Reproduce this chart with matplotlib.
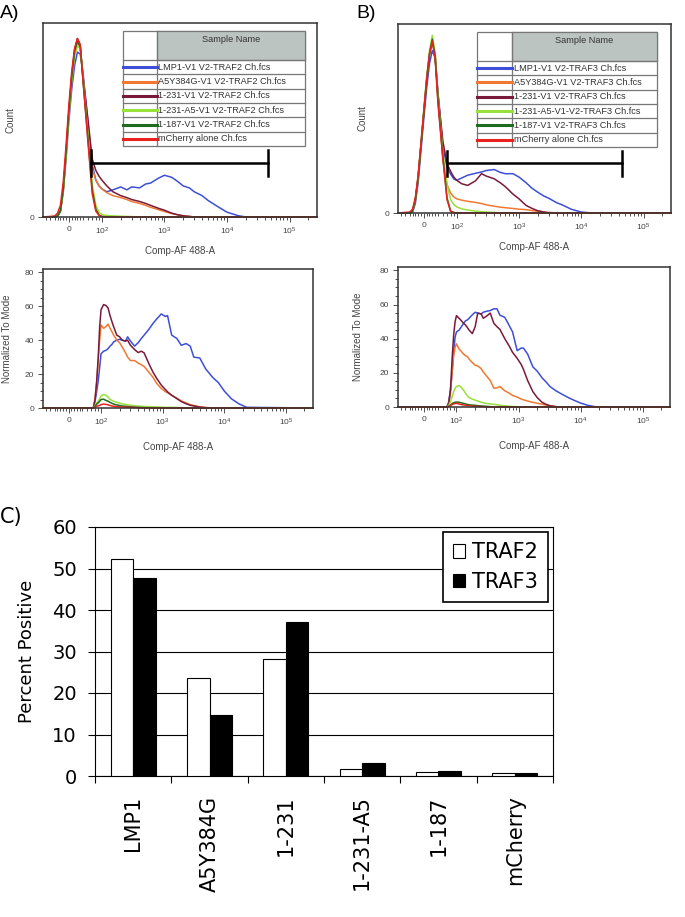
import matplotlib.pyplot as plt
from matplotlib.patches import Rectangle, Patch

plt.rcParams['font.family'] = ['Liberation Sans', 'DejaVu Sans']
plt.rcParams['mathtext.fontset'] = 'custom'
plt.rcParams['mathtext.rm'] = 'Liberation Sans'
plt.rcParams['mathtext.it'] = 'Liberation Sans'
plt.rcParams['mathtext.default'] = 'regular'

# ---- data ----
colors = ['#3d4fd6', '#f07832', '#7a1a3a', '#98e03a', '#1f6b1f', '#e8231e']

names_a = ['LMP1-V1 V2-TRAF2 Ch.fcs', 'A5Y384G-V1 V2-TRAF2 Ch.fcs', '1-231-V1 V2-TRAF2 Ch.fcs',
           '1-231-A5-V1 V2-TRAF2 Ch.fcs', '1-187-V1 V2-TRAF2 Ch.fcs', 'mCherry alone Ch.fcs']
names_b = ['LMP1-V1 V2-TRAF3 Ch.fcs', 'A5Y384G-V1 V2-TRAF3 Ch.fcs', '1-231-V1 V2-TRAF3 Ch.fcs',
           '1-231-A5-V1-V2-TRAF3 Ch.fcs', '1-187-V1 V2-TRAF3 Ch.fcs', 'mCherry alone Ch.fcs']

# fluorescence grid for the ungated (Count) histograms
top_x = [-77, -50, -40, -30, -20, -10, 0, 10, 20, 30, 40, 50, 60, 70, 80, 90, 100, 120,
         150, 200, 250, 300, 400, 500, 600, 800, 1000, 1300, 1600, 2000, 2500, 3000,
         4000, 5000, 7000, 10000, 15000, 20000, 30000, 275000]

top_a_lmp1 = [0, 0, 0.5, 3, 13, 30, 50, 66, 78, 85, 84, 74, 48, 27, 19, 16, 14.5, 13,
              14, 15.5, 14, 15.5, 15, 17, 17.5, 20, 21.5, 20.5, 18.5, 16, 15, 13,
              11, 8.5, 5.5, 2.5, 0.7, 0, 0, 0]
top_a_a5y = [0, 0, 0.5, 3, 14, 33, 54, 72, 85, 90, 87, 71, 45, 25, 19, 16, 14.5, 12.5,
             11, 10, 9, 8, 7, 6, 5, 3.8, 2.8, 1.8, 1.2, 0.6, 0.3] + [0] * 9
top_a_231 = [0, 0, 0.5, 3, 14, 33, 55, 73, 86, 92, 88, 72, 50, 30, 24, 21, 19, 16,
             13, 11, 10, 9, 8, 7, 6, 4.5, 3.5, 2, 1.2, 0.6, 0.3] + [0] * 9
top_a_231a5 = [0, 0, 0.5, 3, 13, 31, 52, 70, 83, 88, 87, 72, 42, 17, 6, 2.5, 1.2, 0.8,
               0.6, 0.4, 0.3, 0.2, 0.1] + [0] * 17
top_a_187 = [0, 0, 0.5, 3, 14, 33, 54, 72, 85, 91, 88, 70, 40, 14, 4, 1, 0.3] + [0] * 23
top_a_mch = [0, 0.5, 2, 6, 18, 37, 58, 75, 87, 92, 89, 70, 38, 12, 3, 0.8, 0.2] + [0] * 23

top_b_lmp1 = [0, 0, 0.5, 5, 16, 33, 50, 66, 79, 86, 82, 64, 35, 24, 20.5, 18, 17.3, 18.5,
              20, 21, 21.7, 22.5, 23, 21.5, 20.8, 20.8, 19, 16, 13.2, 11, 9, 7.8,
              5.5, 4.2, 1.9, 0.5, 0, 0, 0, 0]
top_b_a5y = [0, 0, 1, 7, 19, 36, 53, 70, 84, 90, 84, 62, 28, 15, 10.5, 8.5, 7.5, 6.8,
             6.2, 5.6, 5, 4.3, 3.6, 3.1, 2.8, 2.4, 2, 1.8, 1.3, 0.9, 0.6, 0.3] + [0] * 8
top_b_231 = [0, 0, 1, 7, 19, 36, 53, 70, 84, 91, 84, 63, 38, 26, 22, 19, 17.3, 15.5,
             14.6, 17, 20.8, 19.5, 18.1, 16, 14, 10, 7.5, 4, 2.5, 1.2, 0.5] + [0] * 9
top_b_231a5 = [0, 0, 1, 7, 19, 37, 55, 72, 86, 94, 85, 62, 32, 15, 7, 4.5, 3.2, 2.2,
               1.6, 1, 0.7, 0.5, 0.3, 0.1] + [0] * 16
top_b_187 = [0, 0, 1, 7, 19, 36, 53, 70, 84, 92, 83, 60, 30, 8, 1, 0.3] + [0] * 24
top_b_mch = [0, 0.5, 2, 8, 20, 37, 54, 71, 84, 91, 82, 58, 29, 7, 0.8, 0.2] + [0] * 24

# fluorescence grid for the gated (Normalized To Mode) histograms
bot_x = [-77, 60, 70, 75, 80, 85, 90, 95, 100, 110, 120, 130, 140, 150, 160, 180, 200,
         220, 250, 270, 300, 350, 400, 450, 500, 600, 700, 800, 950, 1100, 1200, 1400,
         1700, 2000, 2400, 2800, 3200, 4000, 5000, 6500, 8000, 10000, 13000, 17000,
         23000, 275000]

bot_a_lmp1 = [0, 0, 0, 0, 4, 10, 16, 24, 32, 33.5, 34, 35, 36.5, 37.5, 39, 40, 40.5, 40,
              39.5, 42, 39.5, 36.5, 38.5, 41, 43, 46.5, 50, 52.5, 55.5, 54, 54.5, 43, 41,
              37, 38, 36.5, 30, 29.5, 23, 18, 15, 10, 5.5, 2.6, 0.4, 0]
bot_a_a5y = [0, 0, 0, 0, 6, 15, 28, 40, 49, 47, 48, 49.5, 47, 45, 43, 40, 38.5, 36,
             32.5, 30, 28, 28, 26.5, 25.5, 24.5, 21, 18, 14.5, 11.5, 9.7, 9, 7.5, 5.8,
             4.2, 3, 2, 1.5, 0.7, 0.3] + [0] * 7
bot_a_231 = [0, 0, 0, 0, 5, 16, 30, 48, 58, 61, 60.5, 59, 54.5, 51, 48, 43, 42, 40,
             39.5, 40, 37, 34.5, 32.7, 33.5, 32.5, 26, 21, 17.5, 13.5, 11, 9.5, 7.5, 5.5,
             3.8, 2.5, 1.6, 1.2, 0.5, 0.2] + [0] * 7
bot_a_231a5 = [0, 0, 0, 0, 1.5, 3, 4, 5.5, 7, 8, 7.5, 6.5, 5, 4.5, 4, 3.3, 2.9, 2.5,
               2.1, 1.9, 1.6, 1.3, 1.1, 1, 0.9, 0.8, 0.7, 0.6, 0.5, 0.4, 0.4, 0.4, 0.3,
               0.2, 0.1] + [0] * 11
bot_a_187 = [0, 0, 0, 0, 1, 2.3, 3, 4, 5, 5.2, 4.5, 4, 3.3, 2.8, 2.3, 1.8, 1.5, 1.2,
             1, 0.9, 0.7, 0.5, 0.4, 0.3, 0.2, 0.1] + [0] * 20
bot_a_mch = [0, 0, 0, 0, 0.5, 1, 1.3, 1.6, 2, 2.3, 2.1, 1.9, 1.5, 1.2, 1, 0.8, 0.7, 0.6,
             0.5, 0.45, 0.4, 0.3, 0.2, 0.1] + [0] * 22

bot_b_lmp1 = [0, 0, 0, 3, 10, 20, 32, 41, 44, 45, 47, 49, 50.5, 51, 52, 54, 55.5, 55,
              54.5, 55.5, 56, 56.5, 57.5, 57.5, 53.8, 52.5, 48, 44, 33, 34.5, 34.5, 31,
              23.5, 21, 17, 14.5, 12, 9.5, 7.5, 5.3, 3.8, 2.3, 1, 0.2, 0, 0]
bot_b_a5y = [0, 0, 0, 2, 8, 20, 30, 35, 37, 34, 32.5, 31, 30, 29.5, 28, 26, 24.5, 24,
             22.5, 20.5, 18.5, 15.5, 11, 11.2, 12, 9.5, 8.2, 6.8, 5.8, 4.7, 4.2, 3.5,
             2.7, 2.2, 1.6, 1.1, 0.8, 0.2] + [0] * 8
bot_b_231 = [0, 0, 0, 2, 10, 28, 42, 50, 53.5, 52, 50.5, 49, 48, 46.5, 45, 43, 47, 55,
             54.5, 52, 53, 55, 49, 47, 45.5, 40, 36, 32, 28.5, 25, 22, 15.5, 9, 5.5, 2.7,
             1.5, 0.7, 0.2] + [0] * 8
bot_b_231a5 = [0, 0, 0, 1, 3, 6, 9, 11, 12, 12.6, 11.5, 9.9, 8, 6.5, 5.5, 4.6, 4, 3.5,
               2.8, 2.5, 2.1, 1.8, 1.6, 1.3, 1, 0.7, 0.5, 0.3, 0.2, 0.1] + [0] * 16
bot_b_187 = [0, 0, 0, 0.5, 1, 2, 2.5, 2.8, 2.9, 2.8, 2.4, 2.1, 1.8, 1.5, 1.3, 1.1, 1,
             0.8, 0.6, 0.5, 0.4, 0.2, 0.1] + [0] * 23
bot_b_mch = [0, 0, 0, 0.3, 0.8, 1.4, 1.8, 2, 2.1, 1.8, 1.4, 1.2, 1, 0.8, 0.7, 0.5, 0.4,
             0.35, 0.3, 0.2, 0.1] + [0] * 25

# gate: (start, end, height) in data units
gate_a = (68, 45800, 27.7)
gate_b = (69, 45000, 26.2)

# bar chart
categories = ['LMP1', 'A5Y384G', '1-231', '1-231-A5', '1-187', 'mCherry']
traf2 = [52.3, 23.7, 28.3, 1.7, 1.0, 0.8]
traf3 = [47.8, 14.6, 37.0, 3.1, 1.1, 0.8]

# ---- figure ----
W, H = 685, 917
fig = plt.figure(figsize=(W / 100, H / 100), dpi=100)


def px_axes(box):
    l, t, r, b = box
    return fig.add_axes([l / W, 1 - b / H, (r - l) / W, (b - t) / H])


minor_x = [-70, -60, -50, -40, -30, -20, -10, 10, 20, 30, 40, 50, 60, 70, 80, 90]
minor_x += [m * 10 ** k for k in (2, 3, 4) for m in range(2, 10)] + [200000]


def flow_axes(box, ymax, yticks, yminor, ylabel, xlab_top, ylab_x):
    ax = px_axes(box)
    ax.set_xscale('symlog', linthresh=50, linscale=0.204)
    ax.set_xlim(-77, 275000)
    ax.set_ylim(0, ymax)
    ax.set_xticks([0, 100, 1000, 10000, 100000])
    ax.set_xticklabels(['0', '$10^2$', '$10^3$', '$10^4$', '$10^5$'])
    ax.set_xticks(minor_x, minor=True)
    ax.set_yticks(yticks)
    ax.set_yticks(yminor, minor=True)
    ax.tick_params(which='both', direction='out', labelsize=6, labelcolor='#444',
                   color='#333', width=0.6, pad=3)
    ax.tick_params(which='major', length=3.5)
    ax.tick_params(which='minor', length=2)
    for s in ax.spines.values():
        s.set_color('#333')
        s.set_linewidth(1.1)
    ax.set_xlabel('Comp-AF 488-A', fontsize=7, color='#444')
    ax.set_ylabel(ylabel, fontsize=7, color='#444')
    l, t, r, b = box
    ax.xaxis.set_label_coords(0.5, (b - xlab_top) / (b - t))
    ax.yaxis.set_label_coords((ylab_x - l) / (r - l), 0.5)
    return ax


def sample_table(box, key_w, head_h, names):
    l, t, r, b = box
    w, h = r - l, b - t
    tab = px_axes(box)
    tab.set_xlim(0, w)
    tab.set_ylim(h, 0)
    tab.axis('off')
    tab.add_patch(Rectangle((0, 0), w, h, facecolor='white', edgecolor='#777',
                            lw=0.9, clip_on=False))
    tab.add_patch(Rectangle((key_w, 0), w - key_w, head_h, facecolor='#bcc4c2',
                            edgecolor='#777', lw=0.9, clip_on=False))
    tab.text((key_w + w) / 2, head_h * 0.3, 'Sample Name', ha='center', va='center',
             fontsize=6.6, color='#333')
    row_h = (h - head_h) / len(names)
    tab.plot([key_w, key_w], [0, h], color='#777', lw=0.9, clip_on=False)
    for i, (name, c) in enumerate(zip(names, colors)):
        y0 = head_h + i * row_h
        tab.plot([0, w], [y0, y0], color='#777', lw=0.9, clip_on=False)
        tab.plot([0, key_w], [y0 + row_h / 2] * 2, color=c, lw=2.2, clip_on=False)
        tab.text(key_w + 1.5, y0 + row_h / 2, name, va='center', fontsize=6.6, color='#333')


def draw_gate(ax, gate, half):
    x0, x1, y = gate
    ax.plot([x0, x1], [y, y], color='black', lw=1.8)
    ax.plot([x0, x0], [y - half, y + half], color='black', lw=1.8)
    ax.plot([x1, x1], [y - half, y + half], color='black', lw=1.8)


# A top
box = (43, 23, 317, 217)
ax = flow_axes(box, 100, [0], [], 'Count', 246, 15)
for ys, c in zip([top_a_lmp1, top_a_a5y, top_a_231, top_a_231a5, top_a_187, top_a_mch], colors):
    ax.plot(top_x, ys, color=c, lw=1.1, clip_on=False)
draw_gate(ax, gate_a, 6.7)
sample_table((123, 31, 305, 146), 34, 29, names_a)

# B top
box = (398, 24, 671, 213)
ax = flow_axes(box, 100, [0], [], 'Count', 242, 368)
for ys, c in zip([top_b_lmp1, top_b_a5y, top_b_231, top_b_231a5, top_b_187, top_b_mch], colors):
    ax.plot(top_x, ys, color=c, lw=1.1, clip_on=False)
draw_gate(ax, gate_b, 6.8)
sample_table((477, 32, 657, 147), 35, 29, names_b)

# A bottom
box = (43, 269, 313, 408)
ax = flow_axes(box, 82, [0, 20, 40, 60, 80], list(range(5, 80, 5)),
               'Normalized To Mode', 442, 12)
for ys, c in zip([bot_a_lmp1, bot_a_a5y, bot_a_231, bot_a_231a5, bot_a_187, bot_a_mch], colors):
    ax.plot(bot_x, ys, color=c, lw=1.1, clip_on=False)

# B bottom
box = (398, 267, 670, 407)
ax = flow_axes(box, 82, [0, 20, 40, 60, 80], list(range(5, 80, 5)),
               'Normalized To Mode', 441, 363)
for ys, c in zip([bot_b_lmp1, bot_b_a5y, bot_b_231, bot_b_231a5, bot_b_187, bot_b_mch], colors):
    ax.plot(bot_x, ys, color=c, lw=1.1, clip_on=False)

# C bar chart (wider, Excel-style lettering)
cfont = ['DejaVu Sans']
box = (95, 527, 553, 776)
ax = px_axes(box)
pos = list(range(len(categories)))
bw = 0.293
ax.bar([p - bw / 2 for p in pos], traf2, bw, color='white', edgecolor='black', lw=0.8,
       label='TRAF2', zorder=3)
ax.bar([p + bw / 2 for p in pos], traf3, bw, color='black', edgecolor='black', lw=0.8,
       label='TRAF3', zorder=3)
ax.set_xlim(-0.5, len(categories) - 0.5)
ax.set_ylim(0, 60)
ax.set_yticks(range(0, 61, 10))
ax.set_yticklabels([str(v) for v in range(0, 61, 10)], family=cfont, fontsize=14)
ax.yaxis.grid(True, color='black', lw=0.8)
ax.set_axisbelow(True)
ax.set_xticks(pos)
ax.set_xticklabels(categories, rotation=90, family=cfont, fontsize=15)
ax.set_xticks([p - 0.5 for p in pos] + [len(categories) - 0.5], minor=True)
ax.tick_params(axis='x', which='major', length=0, pad=14)
ax.tick_params(axis='x', which='minor', length=5, width=0.8, direction='out')
ax.tick_params(axis='y', length=5, width=0.8, pad=8)
for s in ax.spines.values():
    s.set_linewidth(0.8)
ax.set_ylabel('Percent Positive', family=cfont, fontsize=13)
ax.yaxis.set_label_coords((27 - 95) / (553 - 95), 0.5)
ax.yaxis.label.set_va('center')
handles = [Patch(facecolor='white', edgecolor='black', lw=0.8),
           Patch(facecolor='black', edgecolor='black', lw=0.8)]
leg = ax.legend(handles, ['TRAF2', 'TRAF3'], loc='upper right',
                bbox_to_anchor=((548 - 95) / (553 - 95), (776 - 532) / (776 - 527)),
                prop={'family': cfont, 'size': 15},
                fancybox=False, edgecolor='black', framealpha=1, handlelength=0.6,
                handleheight=0.6, handletextpad=0.3, borderpad=0.5, labelspacing=0.45,
                borderaxespad=0)
leg.get_frame().set_linewidth(1.2)

# panel letters
fig.text(0 / W, 1 - 14 / H, 'A)', fontsize=14, va='center', ha='left')
fig.text(356 / W, 1 - 14 / H, 'B)', fontsize=14, va='center', ha='left')
fig.text(0 / W, 1 - 517 / H, 'C)', family=cfont, fontsize=15, va='center', ha='left')

fig.savefig('out.png', dpi=100)
